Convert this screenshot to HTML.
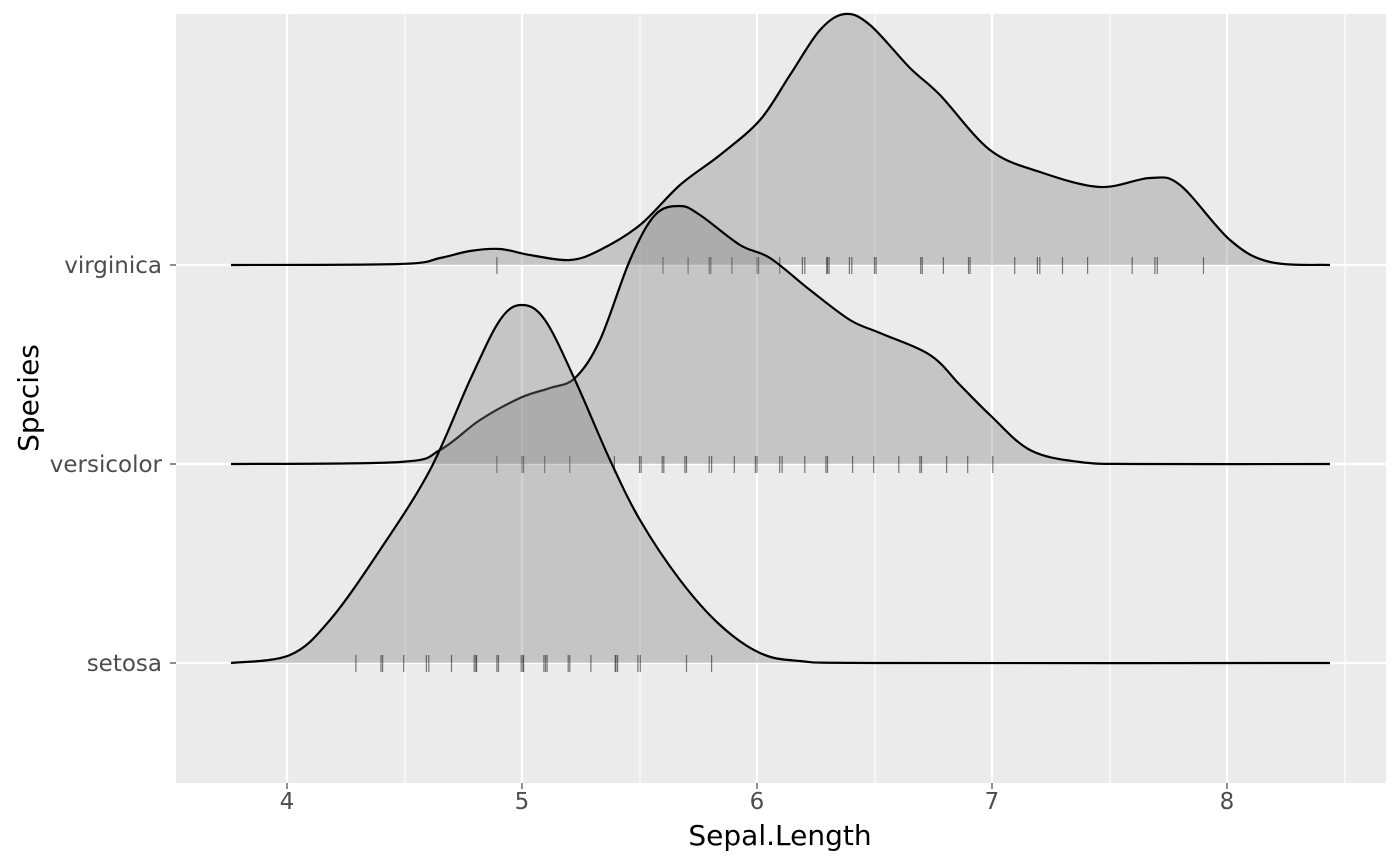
<!DOCTYPE html>
<html><head><style>
html,body{margin:0;padding:0;background:#fff;}
svg{display:block;font-family:"DejaVu Sans","Liberation Sans",sans-serif;}
</style></head><body>
<svg id="s" width="1400" height="866" xmlns="http://www.w3.org/2000/svg">
<rect x="176" y="14" width="1210" height="769" fill="#ebebeb"/>
<g stroke="#fff" stroke-width="1.1">
<line x1="405" y1="14" x2="405" y2="783"/><line x1="640" y1="14" x2="640" y2="783"/><line x1="875" y1="14" x2="875" y2="783"/><line x1="1110" y1="14" x2="1110" y2="783"/><line x1="1345" y1="14" x2="1345" y2="783"/>
</g>
<g stroke="#fff" stroke-width="2.2">
<line x1="287" y1="14" x2="287" y2="783"/><line x1="522" y1="14" x2="522" y2="783"/><line x1="757" y1="14" x2="757" y2="783"/><line x1="992" y1="14" x2="992" y2="783"/><line x1="1227" y1="14" x2="1227" y2="783"/>
<line x1="176" y1="265" x2="1386" y2="265"/><line x1="176" y1="464" x2="1386" y2="464"/><line x1="176" y1="663" x2="1386" y2="663"/>
</g>
<g id="ridges"></g>
<g stroke="#333" stroke-width="1.1">
<line x1="170" y1="265" x2="176" y2="265"/><line x1="170" y1="464" x2="176" y2="464"/><line x1="170" y1="663" x2="176" y2="663"/>
<line x1="287" y1="783" x2="287" y2="789"/><line x1="522" y1="783" x2="522" y2="789"/><line x1="757" y1="783" x2="757" y2="789"/><line x1="992" y1="783" x2="992" y2="789"/><line x1="1227" y1="783" x2="1227" y2="789"/>
</g>
<g fill="#4d4d4d" font-size="23" text-anchor="end">
<text x="162" y="273">virginica</text><text x="162" y="472">versicolor</text><text x="162" y="671">setosa</text>
</g>
<g fill="#4d4d4d" font-size="23" text-anchor="middle">
<text x="287" y="809">4</text><text x="522" y="809">5</text><text x="757" y="809">6</text><text x="992" y="809">7</text><text x="1227" y="809">8</text>
</g>
<text x="780" y="845" font-size="28" text-anchor="middle" fill="#000">Sepal.Length</text>
<text transform="translate(38,398) rotate(-90)" font-size="28" text-anchor="middle" fill="#000">Species</text>
</svg>
<script>
function smooth(p){let d="M"+p[0][0]+","+p[0][1];for(let i=0;i<p.length-1;i++){const a=p[i-1]||p[i],b=p[i],c=p[i+1],e=p[i+2]||c;d+=" C"+(b[0]+(c[0]-a[0])/6)+","+(b[1]+(c[1]-a[1])/6)+" "+(c[0]-(e[0]-b[0])/6)+","+(c[1]-(e[1]-b[1])/6)+" "+c[0]+","+c[1];}return d;}
const X=v=>287+(v-4)*235;
const sets=[
{y:265,pts:[[231,265],[400,264],[440,258],[470,251],[500,249],[530,255],[570,260],[600,250],[640,225],[680,185],[720,155],[760,120],[790,75],[820,30],[845,14],[870,25],[910,68],[940,95],[990,150],[1040,172],[1100,187],[1150,178],[1180,185],[1230,240],[1270,262],[1330,265]],
v:[4.9,5.6,5.7,5.8,5.8,5.9,6.0,6.0,6.1,6.2,6.2,6.3,6.3,6.3,6.4,6.4,6.5,6.5,6.7,6.7,6.8,6.9,6.9,7.1,7.2,7.2,7.3,7.4,7.6,7.7,7.7,7.9]},
{y:464,pts:[[231,464],[400,462],[440,450],[480,420],[520,398],[550,388],[575,378],[600,340],[630,260],[655,215],[680,206],[700,215],[740,245],[770,258],[810,290],[850,320],[880,333],[930,355],[960,385],[990,415],[1030,450],[1080,462],[1140,464],[1330,464]],
v:[4.9,5.0,5.0,5.1,5.2,5.4,5.5,5.5,5.6,5.6,5.7,5.7,5.8,5.8,5.9,6.0,6.0,6.1,6.1,6.2,6.3,6.3,6.4,6.5,6.6,6.7,6.7,6.8,6.9,7.0]},
{y:663,pts:[[231,663],[290,655],[330,620],[380,550],[430,470],[470,380],[500,320],[522,305],[545,320],[575,380],[610,460],[640,520],[680,580],[720,625],[760,653],[800,661],[880,663],[1330,663]],
v:[4.3,4.4,4.4,4.5,4.6,4.6,4.7,4.8,4.8,4.8,4.9,4.9,5.0,5.0,5.0,5.1,5.1,5.1,5.2,5.2,5.3,5.4,5.4,5.4,5.5,5.5,5.7,5.8]}];
let h="";
sets.forEach(s=>{const d=smooth(s.pts);
h+='<path d="'+d+' L1330,'+s.y+' L231,'+s.y+' Z" fill="#7f7f7f" fill-opacity="0.35" stroke="none"/>';
s.v.forEach((v,i)=>{const x=X(v)+((i*7)%5-2)*0.8;h+='<line x1="'+x+'" x2="'+x+'" y1="'+(s.y-8)+'" y2="'+(s.y+9)+'" stroke="#000" stroke-opacity="0.5" stroke-width="1.2"/>';});
h+='<path d="'+d+'" fill="none" stroke="#000" stroke-width="2.2"/>';});
document.getElementById("ridges").innerHTML=h;
</script>
</body></html>
